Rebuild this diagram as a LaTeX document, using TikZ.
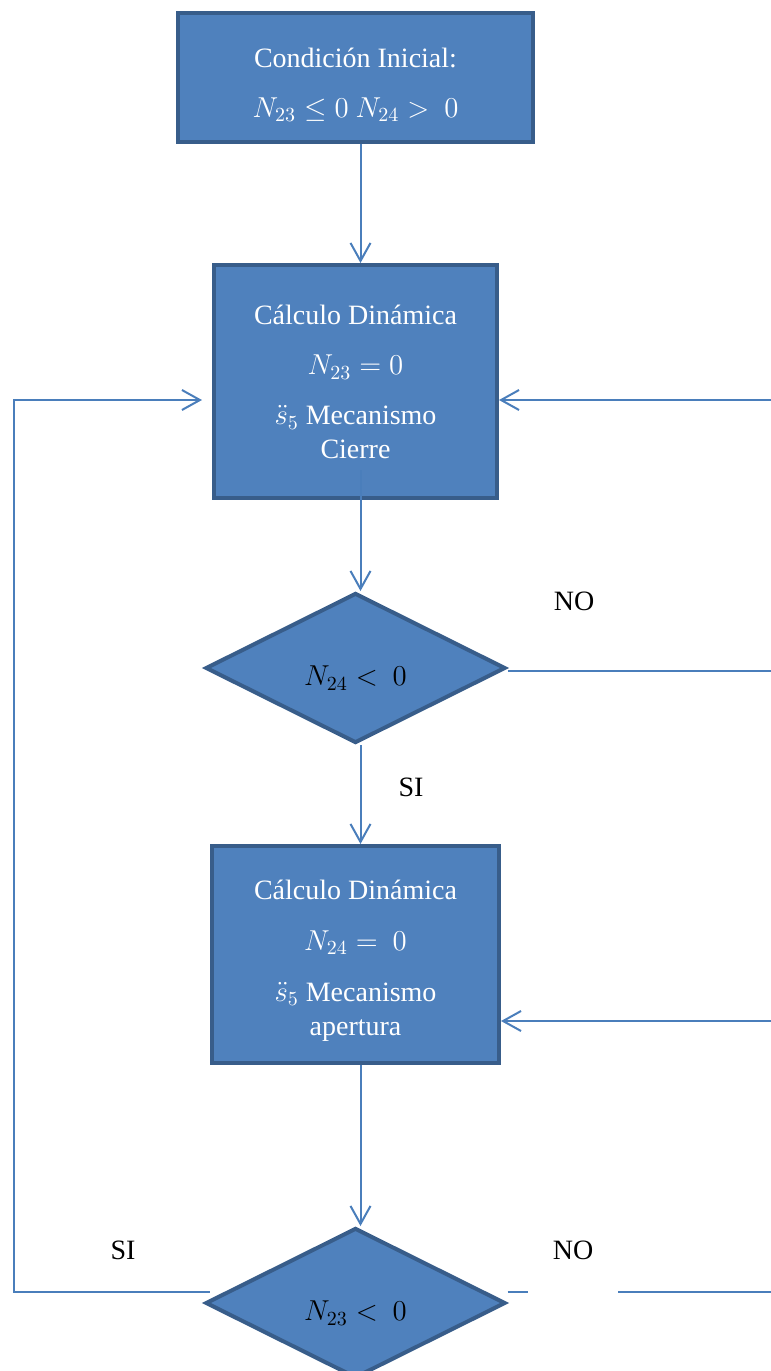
\documentclass[tikz,border=0pt]{standalone}
\usepackage{amsmath,amssymb}
\usepackage{fontspec}
\setmainfont{Liberation Serif}
\usetikzlibrary{arrows.meta,positioning,shapes.geometric}
\definecolor{boxfill}{RGB}{79,129,189}
\definecolor{boxline}{RGB}{56,93,138}
\definecolor{flowblue}{RGB}{74,126,187}
\newcommand{\lowered}[2]{\raisebox{-#1}[\height][\depth]{#2}}

\begin{document}
\begin{tikzpicture}[
  font=\fontsize{14}{17}\selectfont,
  box/.style={draw=boxline, fill=boxfill, line width=2pt, text=white, align=center, inner sep=4pt},
  test/.style={diamond, draw=boxline, fill=boxfill, line width=2pt, minimum width=150pt, minimum height=75pt, inner sep=0pt},
  flow/.style={draw=flowblue, line width=1pt, -{Straight Barb[length=9pt, width=10pt]}},
  lbl/.style={inner sep=2pt}
]
  \useasboundingbox (0,0) rectangle (385.5pt,-685.5pt);
  \clip (0,0) rectangle (385.5pt,-685.5pt);

  % main column
  \node[box, minimum width=177.5pt, minimum height=64.5pt] (init) at (177.75pt,-38.75pt)
    {\rule{0pt}{16.7pt}Condición Inicial:\\[8pt]$N_{23}\leq 0\ N_{24}>\ 0$};
  \node[box, below=59.5pt of init, minimum width=141.5pt, minimum height=116.5pt] (cierre)
    {\rule{0pt}{10.5pt}Cálculo Dinámica\\[8pt]$N_{23}=0$\\[8pt]$\ddot{s}_5$ Mecanismo\\Cierre};
  \node[test, below=45.5pt of cierre] (ntf) {\lowered{5pt}{$N_{24}<\ 0$}};
  \node[box, below=49.5pt of ntf, minimum width=143.5pt, minimum height=108.5pt] (apertura)
    {\rule{0pt}{15.7pt}Cálculo Dinámica\\[8.5pt]$N_{24}=\ 0$\\[8.5pt]$\ddot{s}_5$ Mecanismo\\apertura};
  \node[test, below=80.5pt of apertura] (ntt) {\lowered{5pt}{$N_{23}<\ 0$}};

  \draw[flow] ([xshift=2.5pt]init.south) -- ([xshift=2.5pt]cierre.north);
  \draw[flow] ([xshift=2.5pt,yshift=15pt]cierre.south) -- ([xshift=2.5pt]ntf.north);
  \draw[flow] ([xshift=2.5pt]ntf.south) -- ([xshift=2.5pt]apertura.north);
  \draw[flow] ([xshift=2.5pt]apertura.south) -- ([xshift=2.5pt]ntt.north);

  % loops back (right side runs past the edge)
  \draw[flow] ([yshift=-1.5pt]ntf.east) -- ++(150pt,0) |- ([yshift=-9.25pt]cierre.east);
  \draw[flow] ([yshift=5.5pt]ntt.east) -- ++(145pt,0) |- ([yshift=-33.25pt]apertura.east);
  \coordinate (back) at (7pt,-500pt);
  \draw[flow, shorten >=5pt] ([xshift=3pt,yshift=5.5pt]ntt.west) -| (back) |- ([yshift=-9.25pt]cierre.west);

  % labels
  \node[lbl] (no1) at (287pt,-300.5pt) {NO};
  \node[lbl] (si1) at (205.5pt,-393.5pt) {SI};
  \node[lbl] (si2) at (61.5pt,-625pt) {SI};
  \node[lbl, fill=white, minimum width=45pt, text depth=22pt, anchor=base] (no2) at (286.5pt,-629.75pt) {NO};
\end{tikzpicture}
\end{document}
